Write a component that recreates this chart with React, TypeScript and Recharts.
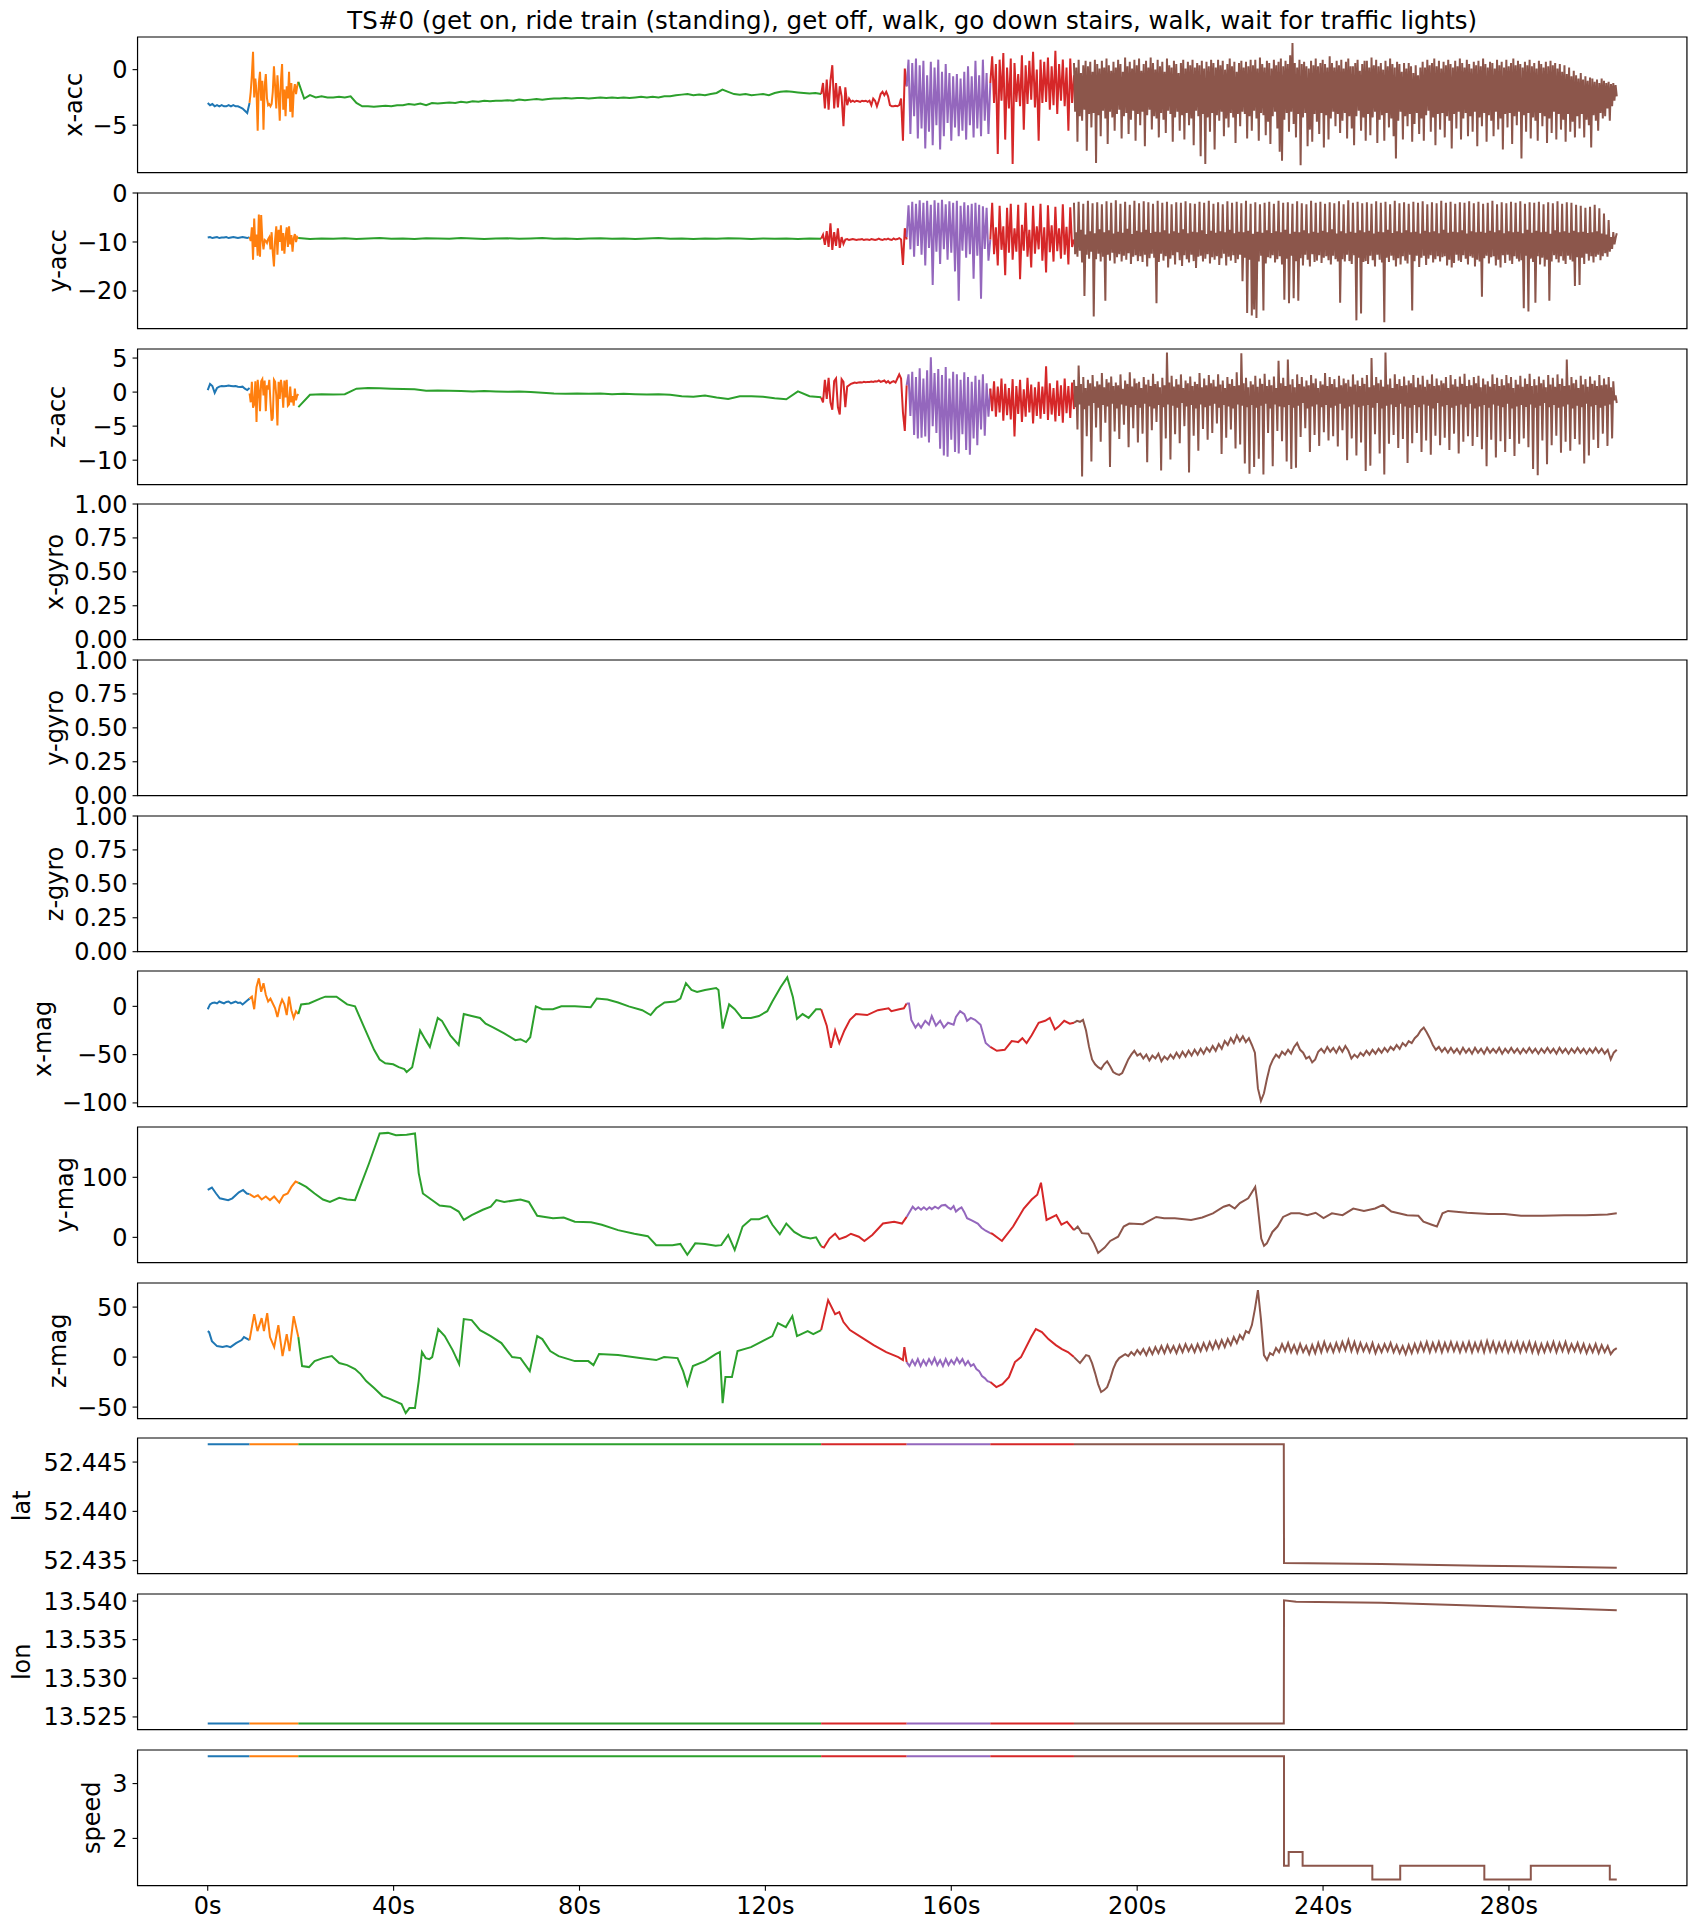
import React from "react";
import { LineChart, Line, XAxis, YAxis, ReferenceArea } from "recharts";

type Pt = { t: number; v: number };
type Seg = { color: string; pts: Pt[]; step?: boolean };

const FONT = "'DejaVu Sans', 'Liberation Sans', sans-serif";
const BLUE = "#1f77b4";
const ORANGE = "#ff7f0e";
const GREEN = "#2ca02c";
const RED = "#d62728";
const PURPLE = "#9467bd";
const BROWN = "#8c564b";

const TITLE =
  "TS#0 (get on, ride train (standing), get off, walk, go down stairs, walk, wait for traffic lights)";

// activity segments in seconds
const segBlue: [number, number] = [0, 9];
const segOrange: [number, number] = [9, 19.5];
const segGreen: [number, number] = [19.5, 132];
const segRed1: [number, number] = [132, 150.4];
const segPurple: [number, number] = [150.4, 168.4];
const segRed2: [number, number] = [168.4, 186.4];
const segBrown: [number, number] = [186.4, 303.2];

const xTicks = [0, 40, 80, 120, 160, 200, 240, 280];

// ---------- x-acc ----------
const xAccBlue = [-3.0, -3.2, -3.1, -3.3, -3.2, -3.3, -3.2, -3.3, -3.3, -3.2, -3.3, -3.2, -3.3, -3.3, -3.4, -3.5, -3.7, -3.9, -3.0];
const xAccOrange = [-3.0, -2.0, -0.5, 1.6, -2.5, -0.8, -2.0, -5.5, -1.2, -0.2, -2.8, -1.0, -5.4, -1.5, -0.4, -2.6, -3.2, -3.1, -3.3, -3.1, -2.0, 0.3, -1.5, -3.5, -0.5, -2.2, -4.6, -1.0, 0.5, -3.6, -1.8, -4.2, -1.5, -2.6, -0.2, -3.8, -1.2, -4.3, -2.0, -1.3, -2.2, -1.5, -1.1];
const xAccGreen = [
  -1.1, -2.6, -2.3, -2.5, -2.4, -2.5, -2.5, -2.45, -2.5, -2.4, -3.0, -3.3, -3.3, -3.35, -3.3, -3.25, -3.3, -3.2, -3.2, -3.1,
  -3.15, -3.05, -3.2, -3.0, -3.05, -3.0, -2.95, -3.0, -2.9, -2.95, -2.85, -2.9, -2.8, -2.85, -2.8, -2.8, -2.75, -2.8, -2.7, -2.75,
  -2.7, -2.65, -2.7, -2.65, -2.6, -2.6, -2.55, -2.6, -2.55, -2.55, -2.6, -2.55, -2.5, -2.55, -2.5, -2.55, -2.5, -2.55, -2.5, -2.45,
  -2.5, -2.45, -2.5, -2.4, -2.4, -2.3, -2.25, -2.2, -2.3, -2.25, -2.3, -2.2, -2.1, -1.8, -2.0, -2.2, -2.25, -2.2, -2.3, -2.25,
  -2.2, -2.3, -2.1, -2.0, -1.95, -2.0, -2.05, -2.1, -2.15, -2.1, -2.2,
];
const xAccRed1 = [-2.2, -1.2, -3.5, -0.9, -3.6, -1.0, 0.4, -3.5, -1.2, -3.4, -1.5, -2.4, -5.1, -1.6, -3.2, -2.6, -2.9, -2.8, -2.9, -2.8, -2.85, -2.9, -2.8, -2.85, -2.8, -2.9, -2.8, -3.2, -2.6, -2.8, -3.3, -2.8, -2.2, -2.0, -2.3, -2.0, -2.4, -3.2, -3.3, -3.3, -3.25, -3.3, -3.2, -2.6, -6.4, 0.1, -1.5];
const xAccPurple = [-1.5, 0.9, -5.8, 0.6, -4.2, 1.0, -6.2, 0.4, -5.3, 0.8, -7.1, -0.5, -5.6, 0.7, -6.8, 0.2, -5.0, 0.9, -7.2, -0.2, -6.0, 0.5, -4.8, -0.3, -6.4, -0.6, -5.2, -0.4, -6.0, -0.8, -5.5, -0.2, -6.3, 0.3, -5.0, -0.6, -6.1, 0.8, -5.3, -0.5, -6.0, 0.9, -4.6, -0.3, -5.8, -1.2];
const xAccRed2 = [-1.2, 1.2, -3.0, 0.5, -7.6, 0.9, -2.8, 1.5, -6.3, 0.2, -3.5, 1.0, -8.5, 0.6, -2.9, -0.4, -3.3, 1.3, -5.4, 0.4, -3.1, 0.8, -2.7, 1.6, -3.4, 0.0, -6.4, 0.9, -3.0, 0.7, -2.9, 1.1, -3.6, 0.3, -3.2, 1.7, -4.0, 0.5, -2.8, 0.9, -3.3, 0.2, -5.5, 1.0, -3.0, -0.5];
const xAccBrown = [
  0.6, -3.8, 0.2, -6.5, 0.9, -4.2, -0.3, -4.6, 0.4, -3.6, 0.8, -7.3,
  0.3, -4.0, 0.7, -5.2, -0.2, -3.9, 0.9, -8.4, 0.5, -4.1, 0.1, -6.0,
  0.8, -3.7, 0.2, -4.4, 1.0, -6.7, 0.4, -3.8, -0.1, -4.3, 0.7, -5.5,
  0.2, -4.0, 0.9, -3.6, 0.5, -6.2, -0.2, -4.2, 1.1, -3.9, 0.3, -5.8,
  0.7, -4.5, 0.1, -3.7, 0.9, -6.4, 0.4, -4.0, 1.0, -5.0, -0.1, -3.8,
  0.5, -6.9, 0.8, -4.1, 0.2, -3.6, 1.1, -5.4, 0.6, -4.2, 0.0, -4.4,
  0.9, -6.1, 0.3, -3.9, 0.7, -4.5, -0.2, -5.7, 1.0, -3.7, 0.4, -4.0,
  0.2, -6.5, 0.8, -4.3, 0.5, -3.8, -0.3, -5.5, 0.6, -4.1, 0.9, -6.3,
  0.1, -3.9, 0.7, -5.0, 0.4, -4.4, 0.9, -6.8, 0.2, -3.7, 0.6, -4.2,
  0.4, -7.8, 0.8, -4.0, 0.1, -8.5, 0.7, -4.3, 0.3, -5.6, 0.9, -3.9,
  0.6, -7.2, 0.2, -4.1, 0.9, -4.6, 0.4, -3.8, 0.8, -6.0, 0.0, -4.4,
  0.5, -5.2, 1.0, -3.9, 0.3, -4.3, 0.7, -6.6, -0.2, -4.0, 0.6, -5.1,
  0.8, -3.8, 0.2, -4.0, 0.7, -6.2, 0.3, -4.2, 0.9, -5.5, 0.4, -3.7,
  0.9, -4.4, 0.1, -6.4, 1.1, -3.9, 0.5, -4.1, 0.2, -5.9, 0.8, -4.7,
  0.6, -6.7, 0.1, -4.2, 0.9, -3.8, 0.4, -5.3, 0.7, -7.4, 1.0, -8.2,
  0.3, -4.5, 0.8, -3.9, 0.5, -5.6, 1.3, -3.8, 2.4, -4.9, 0.6, -6.1,
  0.2, -4.0, 0.9, -8.6, 0.5, -4.3, 0.7, -3.9, 0.3, -6.9, 0.1, -5.4,
  0.8, -6.5, 0.4, -4.0, 1.0, -4.7, 0.3, -5.8, 0.6, -3.9, 0.9, -7.0,
  0.5, -4.1, 0.2, -6.3, 1.2, -4.4, 0.6, -3.8, 0.2, -5.1, 0.8, -4.0,
  0.4, -5.7, 0.9, -4.6, 0.1, -3.9, 0.7, -6.2, 1.0, -4.2, 0.3, -5.3,
  0.3, -6.8, 0.6, -4.2, 0.9, -3.7, -0.1, -5.5, 0.5, -4.3, 0.8, -6.4,
  0.8, -4.0, 0.2, -5.9, 1.1, -4.3, 0.4, -3.8, 0.9, -6.6, 0.3, -4.5,
  0.6, -4.1, 0.0, -6.4, 0.8, -3.9, 0.3, -5.2, 1.0, -4.4, 0.5, -6.0,
  0.2, -8.0, 0.7, -4.6, 0.5, -3.8, -0.2, -6.3, 0.6, -4.2, 0.1, -5.1,
  0.6, -4.0, 0.3, -6.5, -0.3, -4.9, 0.4, -3.9, -0.5, -5.8, 0.2, -4.4,
  0.7, -6.4, 0.2, -4.1, 0.9, -3.7, 0.4, -5.6, 0.6, -4.3, 1.0, -6.8,
  0.3, -4.0, 0.8, -5.4, 0.1, -3.9, 0.7, -6.1, 0.4, -4.2, 0.9, -4.6,
  0.5, -7.1, 0.2, -4.0, 0.8, -5.3, 0.3, -3.8, 1.0, -6.3, 0.6, -4.4,
  0.2, -3.9, 0.9, -6.0, 0.5, -4.2, 0.1, -5.6, 0.7, -3.8, 0.4, -6.9,
  0.8, -4.3, 0.3, -5.1, 1.0, -3.9, 0.5, -6.5, 0.2, -4.1, 0.7, -4.6,
  0.6, -6.0, 0.1, -3.8, 0.9, -5.4, 0.4, -4.4, 0.7, -7.2, 0.2, -4.0,
  0.9, -5.2, 0.3, -3.9, 0.6, -6.7, 1.0, -4.2, 0.4, -5.0, 0.8, -3.8,
  0.5, -8.0, 0.2, -4.1, 0.7, -5.6, 0.4, -3.9, 0.9, -6.2, 0.3, -4.3,
  0.6, -4.6, 0.1, -6.4, 0.8, -3.9, 0.5, -5.1, 0.2, -4.2, 0.7, -6.6,
  0.3, -4.4, 0.8, -5.7, 0.4, -3.8, 0.6, -6.3, 0.1, -4.0, 0.5, -5.4,
  -0.2, -4.5, 0.4, -6.5, -0.4, -4.0, 0.2, -5.6, -0.6, -4.7, -0.1, -6.1,
  -0.5, -4.2, -0.8, -5.3, -0.3, -4.0, -0.9, -6.1, -0.6, -4.5, -1.0, -5.0,
  -0.7, -7.0, -0.8, -4.1, -1.1, -4.6, -0.9, -5.5, -1.2, -3.9, -0.8, -4.4,
  -1.0, -4.2, -1.2, -3.5, -1.1, -4.6, -1.3, -3.3, -1.2, -2.8, -1.4, -2.4,
];

// ---------- y-acc ----------
const yAccBlue = [-9.1, -9.0, -9.2, -9.1, -9.0, -9.2, -9.1, -9.1, -9.0, -9.2, -9.1, -9.0, -9.1, -9.2, -9.1, -9.0, -9.1, -9.2, -9.0];
const yAccOrange = [-9.0, -9.8, -7.0, -13.6, -5.2, -11.0, -8.5, -12.8, -4.4, -13.0, -4.5, -9.5, -11.5, -9.6, -9.8, -10.2, -9.4, -9.0, -11.5, -8.0, -12.2, -15.0, -9.5, -6.8, -12.6, -7.5, -10.0, -6.6, -11.8, -8.2, -12.4, -9.0, -7.0, -11.0, -6.8, -10.5, -8.6, -12.0, -9.2, -8.4, -10.0, -9.0, -9.3];
const yAccGreen = [-9.2, -9.4, -9.3, -9.35, -9.25, -9.4, -9.3, -9.2, -9.35, -9.3, -9.4, -9.25, -9.3, -9.35, -9.2, -9.3, -9.4, -9.3, -9.25, -9.35, -9.3, -9.2, -9.35, -9.3, -9.4, -9.3, -9.25, -9.35, -9.3, -9.4, -9.3, -9.2, -9.35, -9.3, -9.4, -9.3, -9.35, -9.25, -9.3, -9.4, -9.3, -9.35, -9.3, -9.4, -9.3, -9.35];
const yAccRed1 = [-9.3, -8.5, -10.6, -7.8, -11.0, -6.2, -11.6, -8.0, -10.8, -7.2, -11.2, -9.0, -10.4, -9.5, -9.4, -9.6, -9.5, -9.4, -9.5, -9.6, -9.5, -9.5, -9.4, -9.6, -9.5, -9.5, -9.6, -9.4, -9.5, -9.6, -9.5, -9.3, -9.5, -9.6, -9.4, -9.5, -9.3, -9.5, -9.6, -9.3, -9.5, -9.4, -9.2, -9.5, -14.7, -7.2, -9.5];
const yAccPurple = [-9.0, -2.5, -11.5, -1.8, -13.0, -2.2, -10.8, -1.5, -12.6, -2.0, -14.8, -1.6, -11.2, -2.4, -18.8, -1.5, -12.0, -2.0, -14.5, -1.4, -11.5, -2.3, -13.6, -1.7, -12.2, -2.0, -16.0, -1.6, -22.0, -2.6, -11.8, -1.9, -13.2, -2.5, -12.5, -2.2, -17.5, -2.0, -12.8, -2.4, -21.6, -2.7, -11.4, -3.0, -13.8, -9.5];
const yAccRed2 = [-9.5, -2.0, -12.5, -7.0, -14.8, -2.6, -11.6, -6.8, -16.8, -3.0, -12.2, -2.2, -13.6, -7.2, -12.0, -2.4, -17.6, -6.5, -11.8, -2.0, -13.0, -7.5, -15.2, -2.6, -12.4, -6.8, -11.5, -2.2, -13.8, -7.0, -16.2, -2.5, -12.1, -6.6, -14.0, -2.8, -11.9, -7.2, -13.4, -2.3, -12.6, -6.9, -14.6, -2.9, -11.0, -9.5];
const yAccBrown = [
  -2.0, -12.5, -8.0, -13.0, -1.8, -11.8, -7.5, -14.2, -2.2, -21.0, -8.5, -12.6,
  -1.6, -13.4, -7.8, -12.0, -2.1, -25.2, -8.2, -13.5, -1.9, -12.4, -7.4, -14.0,
  -2.3, -13.0, -8.0, -22.0, -1.7, -12.6, -7.6, -13.8, -2.0, -12.2, -8.3, -14.4,
  -1.5, -13.1, -7.9, -12.5, -2.2, -14.0, -8.1, -12.8, -1.8, -13.6, -7.3, -12.3,
  -2.4, -14.5, -8.4, -13.0, -1.6, -12.7, -7.7, -13.9, -2.1, -12.9, -8.0, -14.1,
  -1.7, -12.6, -7.5, -15.0, -1.9, -13.3, -8.2, -12.4, -2.2, -13.2, -7.9, -22.5,
  -1.6, -14.1, -8.0, -12.4, -2.0, -13.8, -7.6, -12.9, -1.8, -15.2, -8.3, -13.4,
  -2.3, -12.7, -7.8, -14.6, -1.9, -12.1, -8.1, -13.7, -2.0, -14.9, -7.4, -12.7,
  -1.7, -13.5, -8.2, -14.2, -2.1, -12.6, -7.9, -13.9, -2.2, -15.3, -8.0, -13.0,
  -1.8, -12.8, -7.6, -14.0, -2.0, -13.4, -8.4, -12.5, -1.6, -14.4, -7.7, -13.1,
  -2.2, -13.6, -8.1, -12.9, -1.9, -14.7, -7.8, -13.3, -2.3, -12.4, -8.0, -14.8,
  -1.7, -13.0, -7.5, -13.8, -2.0, -12.7, -8.2, -14.3, -1.8, -13.5, -7.9, -12.6,
  -2.1, -18.0, -8.0, -13.2, -1.6, -24.5, -7.7, -13.6, -2.2, -25.0, -8.3, -23.8,
  -1.9, -25.5, -7.9, -14.0, -2.3, -12.8, -8.1, -24.0, -2.0, -14.4, -7.6, -13.1,
  -1.8, -13.3, -8.2, -12.7, -2.2, -14.2, -7.8, -13.5, -1.6, -12.9, -8.0, -14.6,
  -2.0, -21.8, -7.5, -13.4, -1.9, -22.5, -8.3, -12.8, -2.2, -21.5, -7.9, -13.9,
  -1.7, -22.0, -8.0, -13.3, -2.1, -14.8, -7.6, -12.6, -2.3, -13.6, -8.2, -15.0,
  -1.6, -12.5, -7.9, -14.1, -2.0, -13.8, -8.1, -12.7, -1.8, -14.3, -7.7, -13.2,
  -2.2, -12.9, -8.0, -13.7, -1.9, -14.6, -7.4, -12.8, -2.1, -13.5, -8.3, -14.0,
  -1.7, -22.4, -7.8, -13.5, -2.3, -14.0, -8.2, -12.6, -1.5, -13.9, -7.9, -14.5,
  -2.0, -12.7, -8.1, -26.0, -1.8, -13.2, -7.6, -24.6, -2.1, -14.1, -8.0, -13.9,
  -1.9, -14.5, -7.7, -12.8, -2.2, -13.7, -8.3, -15.0, -1.7, -12.6, -7.9, -13.6,
  -2.0, -14.2, -8.0, -26.4, -1.8, -13.2, -7.5, -14.1, -2.3, -12.8, -8.2, -13.7,
  -1.6, -15.0, -7.8, -13.3, -2.1, -14.6, -8.1, -12.9, -1.9, -13.8, -7.6, -14.4,
  -2.2, -12.6, -8.0, -24.0, -1.8, -13.9, -7.9, -12.8, -2.0, -15.1, -8.3, -13.2,
  -1.7, -12.8, -7.7, -14.7, -2.3, -13.4, -8.0, -12.7, -1.9, -14.2, -7.8, -13.5,
  -2.1, -12.9, -8.2, -14.0, -1.6, -13.1, -7.5, -12.9, -2.0, -14.8, -8.1, -13.6,
  -1.8, -15.2, -7.9, -14.3, -2.2, -12.6, -8.0, -13.8, -1.9, -14.1, -7.6, -12.7,
  -2.0, -13.4, -8.3, -14.6, -1.7, -12.9, -7.8, -13.2, -2.1, -15.0, -8.0, -13.6,
  -1.8, -14.0, -7.9, -21.2, -2.2, -13.3, -8.1, -12.8, -2.0, -14.4, -7.7, -13.1,
  -1.6, -12.9, -8.0, -14.8, -2.3, -13.6, -7.6, -15.2, -1.9, -12.7, -8.2, -14.3,
  -2.1, -12.6, -7.8, -13.8, -1.8, -14.5, -8.0, -12.9, -2.0, -13.4, -7.9, -14.0,
  -1.7, -13.7, -8.2, -23.5, -2.2, -12.8, -7.5, -24.2, -1.9, -13.4, -8.1, -14.1,
  -2.0, -22.4, -7.7, -12.9, -1.8, -14.6, -8.0, -13.2, -2.3, -15.0, -7.9, -13.6,
  -1.9, -22.0, -8.3, -14.0, -2.1, -12.7, -7.6, -13.5, -1.7, -14.2, -8.0, -12.9,
  -2.2, -13.8, -7.8, -14.5, -1.9, -12.8, -8.1, -13.6, -2.0, -14.0, -7.7, -19.0,
  -2.4, -13.1, -8.0, -18.8, -2.6, -13.2, -7.9, -14.5, -3.0, -12.4, -8.2, -13.8,
  -2.8, -12.9, -8.0, -14.2, -2.4, -13.0, -7.8, -12.6, -3.1, -13.7, -8.3, -12.9,
  -4.2, -12.3, -8.5, -13.0, -5.5, -12.0, -9.0, -11.4, -8.0, -10.5, -9.2, -8.2,
];

// ---------- z-acc ----------
const zAccBlue = [0.3, 1.2, 0.9, -0.1, 0.6, 0.8, 0.9, 0.85, 0.9, 0.95, 0.9, 0.85, 0.9, 0.8, 0.75, 0.8, 0.5, 0.3, 0.6];
const zAccOrange = [-0.2, -1.5, 1.5, -2.3, -1.8, 1.6, -4.4, 1.8, 0.2, -2.8, 1.6, 1.9, -0.5, 1.7, -2.8, 1.0, 0.4, 1.8, -1.5, -4.2, -3.8, 1.8, 1.5, -0.5, -4.9, 1.5, -1.0, 1.8, 0.5, -2.3, 1.7, -0.8, 1.8, -2.0, -1.8, 0.8, -1.5, -0.6, -2.0, 0.5, -1.2, -0.5, -0.3];
const zAccGreen = [-2.2, -0.4, -0.3, -0.35, -0.3, 0.5, 0.6, 0.55, 0.5, 0.45, 0.4, 0.2, 0.25, 0.2, 0.15, 0.1, 0.15, 0.1, 0.05, 0.1, 0.0, -0.1, -0.2, -0.25, -0.2, -0.25, -0.2, -0.3, -0.25, -0.3, -0.35, -0.3, -0.4, -0.6, -0.7, -0.5, -0.8, -1.0, -0.6, -0.6, -0.7, -0.9, -1.05, 0.1, -0.6, -0.75];
const zAccRed1 = [-0.8, -1.5, 1.8, -1.0, 2.1, -1.5, -2.6, 1.6, 2.0, -2.2, -3.3, 1.9, 1.5, -2.2, 0.8, 1.0, 1.2, 1.3, 1.4, 1.35, 1.4, 1.45, 1.4, 1.5, 1.45, 1.5, 1.5, 1.55, 1.5, 1.6, 1.55, 1.7, 1.5, 1.6, 1.7, 1.4, 1.6, 1.3, 1.5, 1.6, 1.4, 2.0, 2.6, 2.0, -3.0, -5.7, 1.0];
const zAccPurple = [1.0, 2.6, -3.5, 3.0, -6.3, 2.2, -6.8, 3.5, -6.7, 2.0, -6.5, 3.2, -7.4, 5.1, -5.0, 2.8, -6.0, 3.4, -8.3, 2.5, -9.3, 3.7, -9.5, 2.0, -7.0, 3.0, -8.8, 2.6, -9.0, 1.8, -6.2, 2.9, -8.5, 2.2, -9.2, 1.5, -6.8, 2.4, -7.8, 1.8, -5.5, 2.6, -6.4, 1.3, -3.6, 0.5];
const zAccRed2 = [0.5, -2.8, 1.6, -3.6, 0.8, -3.0, 2.0, -4.2, 1.2, -3.4, 0.6, -4.0, 1.9, -6.5, 0.9, -3.2, 1.8, -4.4, 0.4, -3.6, 2.1, -3.0, 1.1, -4.6, 0.7, -3.5, 1.5, -3.9, 0.8, -3.2, 3.8, -4.1, 1.3, -3.3, 0.6, -4.3, 1.7, -3.5, 1.0, -4.5, 2.0, -3.1, 0.9, -3.8, 1.4, -2.5];
const zAccBrown = [
  1.8, -2.2, 0.9, -5.5, 3.9, -1.8, 1.2, -12.4, 2.2, -2.5, 0.6, -6.5,
  1.8, -2.0, 1.3, -10.2, 2.5, -1.6, 0.8, -5.2, 1.6, -2.3, 1.1, -7.3,
  2.8, -1.9, 0.7, -4.5, 1.9, -2.1, 1.4, -11.0, 2.3, -1.7, 0.9, -5.8,
  1.4, -2.4, 1.0, -6.9, 2.6, -1.8, 0.5, -4.8, 1.7, -2.0, 1.2, -8.1,
  2.9, -2.2, 0.8, -5.3, 2.0, -1.9, 1.3, -7.4, 1.5, -2.3, 0.6, -6.1,
  2.2, -1.7, 1.1, -10.3, 1.8, -2.1, 0.9, -5.6, 2.7, -2.4, 1.2, -4.4,
  1.6, -1.9, 0.7, -11.5, 2.1, -2.2, 1.0, -6.8, 5.8, -1.8, 1.4, -9.9,
  2.4, -2.0, 0.8, -6.2, 1.9, -2.3, 1.1, -7.5, 2.6, -1.6, 0.6, -5.0,
  1.7, -2.1, 1.3, -11.8, 2.3, -1.9, 0.9, -6.4, 1.5, -2.4, 1.2, -8.6,
  2.8, -1.8, 0.7, -5.4, 2.0, -2.2, 1.0, -7.0, 2.5, -2.0, 1.3, -6.0,
  1.8, -1.7, 0.8, -4.6, 2.6, -2.3, 1.1, -9.1, 1.7, -1.9, 0.6, -6.7,
  2.2, -2.1, 1.2, -5.5, 1.9, -2.4, 0.9, -8.3, 2.9, -1.8, 1.0, -7.7,
  5.7, -2.0, 1.3, -10.5, 2.1, -2.2, 0.7, -12.0, 1.6, -1.9, 1.1, -11.0,
  2.4, -2.3, 0.8, -9.8, 2.0, -2.0, 1.2, -12.1, 2.7, -1.7, 0.9, -6.0,
  1.8, -2.4, 1.0, -10.9, 2.3, -1.8, 0.6, -5.7, 4.6, -2.1, 1.3, -7.2,
  2.1, -2.2, 0.9, -10.2, 4.8, -1.9, 1.1, -11.3, 1.9, -2.3, 0.7, -11.1,
  2.6, -2.0, 1.2, -6.6, 2.2, -1.6, 0.8, -5.3, 1.7, -2.4, 1.0, -8.8,
  2.5, -2.1, 1.3, -6.3, 2.0, -1.8, 0.6, -7.9, 1.6, -2.2, 1.1, -5.9,
  2.8, -1.9, 0.9, -7.1, 2.2, -2.3, 1.2, -6.5, 1.9, -2.0, 0.7, -8.0,
  2.4, -1.7, 1.0, -5.6, 2.0, -2.4, 1.3, -10.0, 1.8, -2.1, 0.8, -6.8,
  2.6, -1.8, 1.1, -9.3, 1.7, -2.2, 0.9, -7.4, 2.1, -2.0, 1.2, -11.6,
  2.5, -1.9, 0.7, -10.8, 5.0, -2.3, 1.0, -6.2, 2.2, -1.6, 1.3, -9.0,
  1.8, -2.4, 0.8, -12.1, 5.8, -2.0, 1.1, -7.6, 2.0, -1.8, 0.6, -6.3,
  2.6, -2.2, 1.2, -8.2, 1.9, -1.7, 0.9, -6.9, 2.3, -2.1, 1.0, -10.4,
  1.7, -2.3, 1.3, -7.5, 2.5, -1.9, 0.7, -6.0, 2.1, -2.2, 1.1, -8.8,
  2.4, -1.8, 0.8, -7.1, 1.8, -2.0, 1.2, -9.2, 2.6, -2.4, 0.9, -6.4,
  2.0, -1.6, 1.0, -7.8, 1.7, -2.1, 1.3, -6.7, 2.2, -1.9, 0.6, -8.5,
  2.5, -2.3, 1.1, -6.1, 1.9, -2.0, 0.8, -9.0, 2.3, -1.8, 1.2, -7.3,
  2.7, -2.2, 0.9, -6.5, 1.8, -1.7, 1.0, -7.9, 2.2, -2.4, 1.3, -6.6,
  2.4, -2.1, 0.7, -8.4, 2.0, -1.9, 1.1, -10.9, 1.6, -2.3, 0.8, -7.0,
  2.6, -1.8, 1.2, -9.6, 2.1, -2.0, 0.9, -7.2, 1.9, -2.2, 1.0, -8.8,
  2.5, -1.7, 1.3, -6.9, 2.2, -2.4, 0.6, -9.4, 1.8, -2.1, 1.1, -7.6,
  2.4, -1.9, 0.8, -6.8, 2.0, -2.2, 1.2, -8.1, 2.7, -1.8, 0.9, -11.3,
  1.9, -2.3, 1.0, -12.2, 2.3, -2.0, 1.3, -7.1, 1.8, -1.6, 0.7, -10.6,
  2.5, -2.2, 1.1, -7.8, 2.1, -1.9, 0.8, -6.4, 2.6, -2.3, 1.2, -8.9,
  2.0, -2.1, 0.9, -7.3, 4.8, -1.8, 1.0, -8.6, 2.2, -2.4, 1.3, -6.9,
  1.8, -2.0, 0.6, -7.7, 2.4, -2.2, 1.1, -10.5, 1.9, -1.7, 0.8, -9.3,
  2.3, -2.1, 1.2, -7.0, 1.7, -1.9, 0.9, -8.2, 2.5, -2.3, 1.0, -6.1,
  2.0, -2.0, 1.1, -7.9, 2.2, -1.8, 0.7, -6.8, 1.6, -1.2, -0.5, -1.6,
];

// ---------- x-mag ----------
const xMagBlue = [-3, 2, 3.5, 4, 3, 5, 4, 3, 4.5, 5, 3, 4, 5, 3.5, 4, 2, 4, 6, 8];
const xMagOrange = [8, 10, -3, 20, 29, 15, 24, 12, 5, 8, 3, -2, -11, 0, 7, 2, -9, 10, -4, -12, -5, -8];
const xMagGreen = [
  [19.5, -8], [20.1, 2], [21.8, 3], [24.2, 8], [25.3, 10], [27.7, 10], [30, 2], [31.7, 0], [33.5, -20], [35.8, -45],
  [37, -55], [38.2, -59], [39.9, -60], [41.1, -63], [42.3, -65], [42.8, -68], [44, -63], [44.8, -45], [45.7, -25], [46.9, -35],
  [47.8, -42], [49.5, -12], [50.4, -15], [52.2, -30], [54, -40], [55.1, -8], [56.8, -10], [58.6, -12], [59.8, -18], [61.5, -22],
  [63.8, -28], [66.2, -35], [67.3, -34], [68.5, -37], [69.4, -32], [70.6, 0], [72, -3], [74.3, -3], [76.1, 0], [79, 0],
  [82.4, -1], [83.7, 8], [86, 7], [88.3, 4], [90.6, 0], [93.5, -4], [95.3, -9], [96.5, -2], [98.3, 4], [100.6, 5],
  [101.7, 8], [102.9, 24], [104.1, 17], [105.3, 15], [107, 17], [109.4, 19], [109.9, 17], [110.8, -23], [112.2, 2], [113.4, -3],
  [114.9, -12], [116.9, -12], [118.6, -10], [120.4, -5], [121.5, 5], [123.3, 20], [124.7, 30], [125.9, 10], [126.8, -13], [128, -8],
  [129.3, -12], [130.9, -3], [132, -3],
];
const xMagRed1 = [[132, -3], [133.2, -20], [134.1, -43], [135, -25], [135.9, -38], [137, -25], [138.2, -14], [139.5, -8], [141.9, -9], [144.2, -4], [146.5, -2], [147.1, -5], [148.8, -3], [149.8, -2], [150.4, 3]];
const xMagPurple = [[150.4, 3], [150.9, 3], [151.4, -14], [152.3, -22], [152.9, -18], [153.5, -22], [154.4, -15], [155.2, -19], [155.8, -10], [156.7, -20], [157.6, -15], [158.4, -22], [159.3, -17], [160.5, -19], [161, -11], [161.9, -5], [162.8, -8], [163.4, -15], [164.2, -12], [165.1, -14], [166.3, -19], [167.4, -38], [168.4, -42]];
const xMagRed2 = [[168.4, -42], [169.8, -46], [171.5, -45], [173, -36], [174.4, -37], [175.3, -33], [176.2, -38], [177.3, -30], [178.8, -17], [180.2, -15], [181.2, -12], [182.3, -24], [183.1, -21], [184.3, -15], [185.5, -18], [186.4, -17]];
const xMagBrown = [
  -17, -15, -16, -14, -25, -42, -55, -60, -63, -65, -60, -57, -62, -68, -70, -71, -69, -62, -55, -50,
  -46, -51, -49, -54, -50, -56, -51, -54, -49, -57, -52, -55, -50, -54, -48, -53, -47, -52, -46, -51,
  -45, -50, -44, -49, -43, -47, -41, -46, -39, -44, -36, -40, -33, -38, -30, -36, -31, -37, -33, -40,
  -48, -85, -98, -90, -75, -62, -55, -50, -53, -47, -50, -45, -49, -42, -38, -45, -48, -54, -52, -58,
  -55, -47, -44, -48, -42, -47, -43, -48, -42, -47, -41, -46, -54, -50, -53, -48, -51, -46, -50, -45,
  -49, -44, -48, -43, -47, -42, -45, -40, -44, -38, -41, -36, -38, -33, -30, -25, -22, -27, -33, -40,
  -45, -42, -47, -43, -48, -43, -48, -44, -49, -43, -48, -44, -49, -43, -48, -44, -49, -43, -48, -44,
  -48, -43, -49, -44, -48, -43, -48, -44, -49, -44, -48, -43, -48, -44, -49, -44, -48, -43, -48, -44,
  -49, -43, -48, -44, -49, -44, -48, -43, -48, -44, -49, -44, -48, -43, -48, -44, -49, -45, -55, -48,
  -45,
];

// ---------- y-mag ----------
const yMagBlue = [[0, 79], [0.9, 83], [1.8, 73], [2.6, 65], [4.4, 62], [5.3, 65], [6.7, 75], [7.6, 79], [8.4, 73], [9, 72]];
const yMagOrange = [[9, 72], [10, 67], [10.8, 70], [11.6, 63], [12.5, 68], [13.4, 62], [14.3, 68], [15.4, 58], [16.3, 70], [17.2, 73], [18, 84], [18.9, 93], [19.5, 91]];
const yMagGreen = [
  [19.5, 91], [21.2, 84], [23, 73], [24.8, 63], [26.3, 59], [28.3, 66], [30, 63], [31.7, 62], [34.7, 123], [37, 173],
  [38.8, 174], [40.5, 170], [42.8, 171], [44.6, 173], [45.4, 107], [46.3, 73], [48.1, 63], [49.9, 53], [52.2, 51], [54, 43],
  [55.1, 29], [56.8, 37], [59.2, 46], [60.9, 51], [62.1, 62], [63.8, 59], [67.3, 63], [69.1, 59], [70.9, 36], [74.3, 32],
  [76.6, 33], [79, 26], [82.5, 25], [84.8, 21], [88.3, 12], [91.8, 6], [94.7, 2], [96.5, -13], [100, -13], [101.7, -11],
  [103.2, -29], [104.9, -10], [107, -11], [109.3, -14], [110.5, -13], [112, 4], [113.4, -21], [115.1, 18], [116.9, 30], [118.6, 30],
  [120.4, 36], [121.5, 21], [123.1, 5], [124.5, 23], [126.2, 9], [128, 1], [129.7, -2], [130.9, 0], [132, -15],
];
const yMagRed1 = [[132, -15], [132.6, -17], [133.8, -2], [135, 6], [135.9, -3], [137.3, 1], [138.4, 6], [140.1, 1], [141.3, -6], [143, 4], [145.3, 23], [147.7, 26], [149.4, 23], [150.4, 34]];
const yMagPurple = [[150.4, 34], [151.7, 51], [152.3, 46], [152.9, 50], [153.5, 46], [154.1, 50], [154.7, 46], [155.3, 50], [155.8, 47], [156.5, 51], [157.2, 48], [157.9, 53], [158.7, 54], [159.3, 50], [159.9, 47], [160.5, 52], [161, 43], [161.6, 47], [162.2, 50], [162.8, 42], [163.4, 32], [164.5, 28], [165.7, 23], [166.5, 16], [167.4, 11], [168.4, 7]];
const yMagRed2 = [[168.4, 7], [168.8, 6], [170.9, -6], [173.3, 18], [175.6, 48], [177.3, 63], [178.5, 71], [179.3, 91], [180.5, 29], [182.6, 37], [183.7, 21], [184.9, 26], [186.4, 12]];
const yMagBrown = [
  [186.4, 12], [187.2, 18], [188.1, 7], [189.5, 6], [190.7, -10], [191.6, -26], [193, -17], [194.2, -6], [195.9, 1], [197.1, 18],
  [198.3, 23], [201.2, 22], [204.1, 34], [205.8, 32], [208.1, 32], [211.6, 29], [214, 33], [216.3, 40], [218.6, 51], [219.8, 54],
  [221, 48], [222.1, 57], [223.9, 65], [225, 79], [225.4, 84], [225.8, 62], [226.7, -2], [227.3, -14], [227.9, -10], [229.1, 9],
  [230.2, 18], [231.4, 34], [233.1, 40], [234.9, 40], [236.6, 37], [238.4, 41], [240.1, 32], [241.9, 40], [244.2, 37], [246.5, 48],
  [248.8, 44], [251.2, 48], [252.9, 54], [254.7, 43], [258.1, 37], [260.5, 36], [261.6, 26], [263.4, 21], [264.5, 18], [265.7, 40],
  [266.9, 44], [271, 41], [275.6, 39], [279.1, 39], [282.6, 36], [287.2, 36], [291.9, 37], [296.5, 37], [301.2, 38], [303.2, 40],
];

// ---------- z-mag ----------
const zMagBlue = [[0, 26], [0.3, 25], [0.9, 16], [2, 11], [3.2, 10], [4.1, 11], [4.9, 10], [6.1, 14], [7.3, 17], [7.8, 20], [9, 17]];
const zMagOrange = [[9, 17], [10, 43], [10.7, 26], [11.6, 39], [12.1, 26], [12.8, 44], [13.4, 20], [14.3, 10], [15.2, 32], [16.1, 1], [17, 23], [17.6, 6], [18.5, 41], [19.5, 20]];
const zMagGreen = [
  [19.5, 20], [20.3, -9], [21.8, -10], [23, -4], [24.8, -1], [26.7, 1], [28.3, -6], [30, -8], [31.7, -12], [32.9, -17],
  [34.1, -24], [35.8, -31], [37.6, -39], [39.3, -42], [41.7, -47], [42.6, -56], [43.4, -51], [44.6, -51], [45.4, -24], [46.1, 5],
  [46.9, -1], [47.7, -2], [48.3, 0], [49.6, 28], [51, 21], [52.7, 7], [54.1, -7], [55.1, 38], [56.8, 37], [58.6, 27],
  [60.9, 21], [63.2, 14], [65.5, 0], [67.3, -1], [69.3, -14], [70.9, 21], [72, 18], [73.7, 6], [75.5, 1], [79, -4],
  [81.9, -4], [83, -8], [84.2, 3], [88.3, 2], [93, -1], [96.5, -3], [98.2, 0], [101.1, -1], [102.3, -14], [103.2, -28],
  [104.4, -9], [107, -4], [109.3, 3], [110.2, 5], [110.8, -46], [111.4, -20], [112.8, -20], [114, 6], [116.9, 10], [119.8, 17],
  [121.5, 21], [122.7, 34], [124.4, 30], [125.8, 41], [126.8, 21], [129.1, 26], [130.3, 23], [132, 27],
];
const zMagRed1 = [[132, 27], [133.5, 57], [135, 43], [135.9, 45], [136.8, 35], [138.2, 27], [140.6, 20], [143.3, 12], [146, 5], [148.6, 0], [149.6, -3], [149.9, 10], [150.4, -5]];
const zMagPurple = [[150.4, -5], [151, -9], [151.6, -3], [152.2, -8], [152.8, -2], [153.4, -9], [154, -3], [154.6, -8], [155.2, -2], [155.8, -7], [156.4, -1], [157, -8], [157.6, -3], [158.2, -9], [158.8, -2], [159.4, -8], [160, -3], [160.6, -7], [161.2, -1], [161.8, -6], [162.4, -2], [163, -8], [163.6, -4], [164.2, -9], [164.8, -7], [165.4, -12], [166, -14], [166.6, -19], [167.2, -21], [167.8, -24], [168.4, -25]];
const zMagRed2 = [[168.4, -25], [169.7, -30], [171, -27], [172.4, -20], [173.7, -5], [175, 0], [177.2, 20], [178.2, 28], [179.5, 25], [180.9, 18], [182.5, 12], [183.8, 8], [185.1, 5], [186.4, 0]];
const zMagBrown = [
  0, -3, -6, -2, 2, 1, -6, -16, -27, -35, -33, -30, -22, -12, -5, -1, 1, 3, 1, 5,
  2, 7, 3, 8, 2, 9, 3, 10, 4, 11, 4, 12, 5, 11, 4, 12, 5, 13, 6, 12,
  5, 13, 6, 14, 7, 15, 8, 16, 9, 17, 10, 18, 12, 20, 14, 22, 18, 26, 24, 32,
  48, 67, 38, 2, -3, 4, 2, 9, 5, 13, 6, 14, 5, 12, 4, 13, 5, 11, 3, 12,
  4, 14, 5, 15, 6, 13, 5, 14, 6, 15, 7, 17, 6, 15, 5, 14, 6, 13, 5, 14,
  4, 12, 5, 13, 6, 14, 5, 12, 4, 11, 3, 12, 4, 13, 5, 14, 6, 15, 5, 14,
  6, 15, 5, 14, 6, 15, 6, 14, 5, 14, 6, 15, 5, 14, 6, 15, 5, 16, 6, 15,
  5, 14, 6, 15, 5, 14, 6, 15, 5, 14, 6, 15, 5, 14, 4, 13, 5, 14, 6, 15,
  5, 14, 6, 15, 5, 13, 6, 14, 5, 13, 4, 12, 5, 13, 4, 12, 5, 11, 3, 7,
  9,
];

// ---------- GPS ----------
const latStill = [52.4468, 52.4468];
const latBrown = [[186.4, 52.4468], [231.55, 52.4468], [231.6, 52.43477], [252.5, 52.43466], [274, 52.43449], [303.2, 52.43429]];
const lonStill = [13.52415, 13.52415];
const lonBrown = [[186.4, 13.52415], [231.55, 13.52415], [231.6, 13.54009], [234.2, 13.53991], [252.5, 13.53978], [268.6, 13.53948], [290.5, 13.53905], [303.2, 13.5388]];
const speedStill = [3.5, 3.5];
const speedBrown = [[186.4, 3.5], [231.6, 1.5], [232.6, 1.75], [235.6, 1.5], [250.6, 1.25], [256.6, 1.5], [274.7, 1.25], [284.7, 1.5], [301.7, 1.25], [303.2, 1.25]];

// ---------- helpers ----------
const even = (seg: [number, number], vals: number[]): Pt[] =>
  vals.map((v, i) => ({ t: seg[0] + ((seg[1] - seg[0]) * i) / (vals.length - 1), v }));
const pairs = (arr: number[][]): Pt[] => arr.map(([t, v]) => ({ t, v }));

const sixEven = (a: number[][]): Seg[] => [
  { color: BLUE, pts: even(segBlue, a[0]) },
  { color: ORANGE, pts: even(segOrange, a[1]) },
  { color: GREEN, pts: even(segGreen, a[2]) },
  { color: RED, pts: even(segRed1, a[3]) },
  { color: PURPLE, pts: even(segPurple, a[4]) },
  { color: RED, pts: even(segRed2, a[5]) },
  { color: BROWN, pts: even(segBrown, a[6]) },
];

const flat = (still: number[], brown: number[][], step = false): Seg[] => [
  { color: BLUE, pts: even(segBlue, still) },
  { color: ORANGE, pts: even(segOrange, still) },
  { color: GREEN, pts: even(segGreen, still) },
  { color: RED, pts: even(segRed1, still) },
  { color: PURPLE, pts: even(segPurple, still) },
  { color: RED, pts: even(segRed2, still) },
  { color: BROWN, pts: pairs(brown), step },
];

type PanelDef = {
  label: string;
  labelX: number;
  domain: [number, number];
  ticks: number[];
  digits: number;
  segs: Seg[];
};

const panels: PanelDef[] = [
  { label: "x-acc", labelX: 74, domain: [-9.28, 2.94], ticks: [-5, 0], digits: 0,
    segs: sixEven([xAccBlue, xAccOrange, xAccGreen, xAccRed1, xAccPurple, xAccRed2, xAccBrown]) },
  { label: "y-acc", labelX: 58, domain: [-27.7, 0], ticks: [-20, -10, 0], digits: 0,
    segs: sixEven([yAccBlue, yAccOrange, yAccGreen, yAccRed1, yAccPurple, yAccRed2, yAccBrown]) },
  { label: "z-acc", labelX: 57, domain: [-13.6, 6.33], ticks: [-10, -5, 0, 5], digits: 0,
    segs: sixEven([zAccBlue, zAccOrange, zAccGreen, zAccRed1, zAccPurple, zAccRed2, zAccBrown]) },
  { label: "x-gyro", labelX: 55, domain: [0, 1], ticks: [0, 0.25, 0.5, 0.75, 1], digits: 2, segs: [] },
  { label: "y-gyro", labelX: 55, domain: [0, 1], ticks: [0, 0.25, 0.5, 0.75, 1], digits: 2, segs: [] },
  { label: "z-gyro", labelX: 55, domain: [0, 1], ticks: [0, 0.25, 0.5, 0.75, 1], digits: 2, segs: [] },
  { label: "x-mag", labelX: 43, domain: [-103.9, 36.6], ticks: [-100, -50, 0], digits: 0,
    segs: [
      { color: BLUE, pts: even(segBlue, xMagBlue) },
      { color: ORANGE, pts: even(segOrange, xMagOrange) },
      { color: GREEN, pts: pairs(xMagGreen) },
      { color: RED, pts: pairs(xMagRed1) },
      { color: PURPLE, pts: pairs(xMagPurple) },
      { color: RED, pts: pairs(xMagRed2) },
      { color: BROWN, pts: even(segBrown, xMagBrown) },
    ] },
  { label: "y-mag", labelX: 65, domain: [-42.2, 183.8], ticks: [0, 100], digits: 0,
    segs: [
      { color: BLUE, pts: pairs(yMagBlue) },
      { color: ORANGE, pts: pairs(yMagOrange) },
      { color: GREEN, pts: pairs(yMagGreen) },
      { color: RED, pts: pairs(yMagRed1) },
      { color: PURPLE, pts: pairs(yMagPurple) },
      { color: RED, pts: pairs(yMagRed2) },
      { color: BROWN, pts: pairs(yMagBrown) },
    ] },
  { label: "z-mag", labelX: 58, domain: [-61.6, 74.1], ticks: [-50, 0, 50], digits: 0,
    segs: [
      { color: BLUE, pts: pairs(zMagBlue) },
      { color: ORANGE, pts: pairs(zMagOrange) },
      { color: GREEN, pts: pairs(zMagGreen) },
      { color: RED, pts: pairs(zMagRed1) },
      { color: PURPLE, pts: pairs(zMagPurple) },
      { color: RED, pts: pairs(zMagRed2) },
      { color: BROWN, pts: even(segBrown, zMagBrown) },
    ] },
  { label: "lat", labelX: 22, domain: [52.43368, 52.44744], ticks: [52.435, 52.44, 52.445], digits: 3,
    segs: flat(latStill, latBrown) },
  { label: "lon", labelX: 22, domain: [13.52335, 13.54091], ticks: [13.525, 13.53, 13.535, 13.54], digits: 3,
    segs: flat(lonStill, lonBrown) },
  { label: "speed", labelX: 92, domain: [1.1375, 3.6125], ticks: [2, 3], digits: 0,
    segs: flat(speedStill, speedBrown, true) },
];

const W = 1696;
const PLOT_LEFT = 137.5;
const PLOT_RIGHT = 1687;
const PLOT_H = 135.7;
const TOP0 = 37.3;
const STEP = 155.67;
const MT = 14;
const X_DOMAIN: [number, number] = [-15.1, 318.3];

const fmtY = (digits: number) => (v: number) => {
  const s = Math.abs(v).toFixed(digits);
  return v < 0 ? "\u2212" + s : s;
};

function Panel({ p, index, last }: { p: PanelDef; index: number; last: boolean }) {
  const xh = last ? 44 : 24;
  const top = TOP0 + index * STEP;
  const cy = MT + PLOT_H / 2;
  const tickStyle = { fill: "#000", fontSize: 24, fontFamily: FONT };
  return (
    <div style={{ position: "absolute", left: 0, top: top - MT }}>
      <LineChart
        width={W}
        height={MT + PLOT_H + xh}
        margin={{ top: MT, right: W - PLOT_RIGHT, bottom: 0, left: 0 }}
      >
        <XAxis
          type="number"
          dataKey="t"
          domain={X_DOMAIN}
          ticks={xTicks}
          allowDataOverflow
          height={xh}
          axisLine={false}
          stroke="#000"
          tickLine={{ stroke: "#000", strokeWidth: 1.1 }}
          tickSize={5}
          tickMargin={6}
          tick={last ? tickStyle : false}
          tickFormatter={(v: number) => `${v}s`}
        />
        <YAxis
          type="number"
          domain={p.domain}
          ticks={p.ticks}
          allowDataOverflow
          width={PLOT_LEFT}
          axisLine={false}
          stroke="#000"
          tickLine={{ stroke: "#000", strokeWidth: 1.1 }}
          tickSize={5}
          tickMargin={5}
          tick={tickStyle}
          tickFormatter={fmtY(p.digits)}
          label={{
            content: () => (
              <text
                x={p.labelX}
                y={cy}
                transform={`rotate(-90 ${p.labelX} ${cy})`}
                textAnchor="middle"
                dominantBaseline="central"
                fontSize={24}
                fontFamily={FONT}
                fill="#000"
              >
                {p.label}
              </text>
            ),
          }}
        />
        {p.segs.map((s, i) => (
          <Line
            key={i}
            data={s.pts}
            dataKey="v"
            type={s.step ? "stepAfter" : "linear"}
            stroke={s.color}
            strokeWidth={2}
            dot={false}
            activeDot={false}
            isAnimationActive={false}
          />
        ))}
        <ReferenceArea
          y1={p.domain[0]}
          y2={p.domain[1]}
          fill="none"
          stroke="#000"
          strokeWidth={1.2}
          ifOverflow="visible"
        />
      </LineChart>
    </div>
  );
}

export default function App() {
  return (
    <div
      style={{
        position: "absolute",
        left: 0,
        top: 0,
        width: W,
        height: 1929,
        background: "#fff",
        overflow: "hidden",
      }}
    >
      <svg width={W} height={40} style={{ position: "absolute", left: 0, top: 0 }}>
        <text
          x={(PLOT_LEFT + PLOT_RIGHT) / 2}
          y={29.3}
          textAnchor="middle"
          fontSize={24.5}
          fontFamily={FONT}
          fill="#000"
        >
          {TITLE}
        </text>
      </svg>
      {panels.map((p, i) => (
        <Panel key={p.label} p={p} index={i} last={i === panels.length - 1} />
      ))}
    </div>
  );
}
